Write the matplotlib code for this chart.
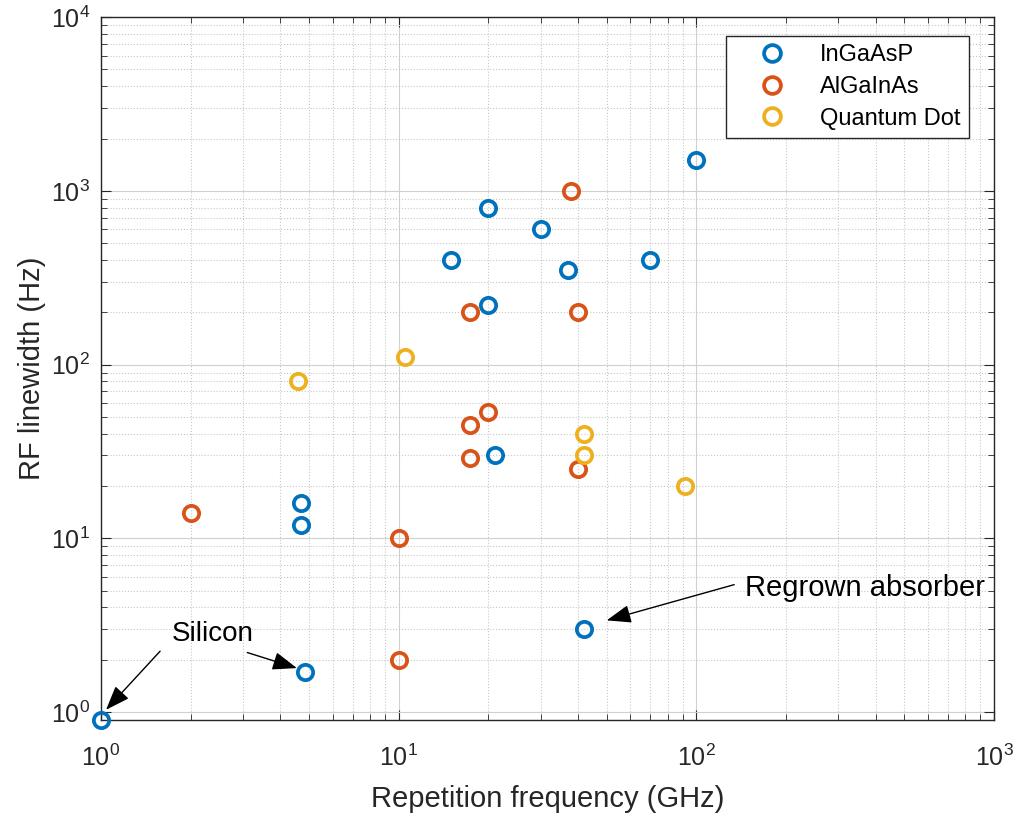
import matplotlib
matplotlib.use("Agg")
import matplotlib.pyplot as plt

plt.rcParams['font.family'] = ['Liberation Sans', 'DejaVu Sans']

# InGaAsP
ingaasp_f = [100, 20, 30, 15, 37, 70, 20, 21, 4.7, 4.7, 4.85, 42, 1]
ingaasp_lw = [1500, 800, 600, 400, 350, 400, 220, 30, 16, 12, 1.7, 3, 0.9]
# AlGaInAs
algainas_f = [38, 17.4, 40, 20, 17.4, 17.4, 40, 2, 10, 10]
algainas_lw = [1000, 200, 200, 53, 45, 29, 25, 14, 10, 2]
# Quantum Dot
qd_f = [10.5, 4.6, 42, 42, 91.5]
qd_lw = [110, 80, 40, 30, 20]

fig = plt.figure(figsize=(10.19, 8.15), dpi=100)
ax = fig.add_axes([0.0991, 0.1166, 0.8764, 0.8624])

mk = dict(linestyle='none', marker='o', markerfacecolor='none', markersize=11, markeredgewidth=2.7, clip_on=False, zorder=3)
ax.plot(ingaasp_f, ingaasp_lw, markeredgecolor='#0072BD', label='InGaAsP', **mk)
ax.plot(algainas_f, algainas_lw, markeredgecolor='#D95319', label='AlGaInAs', **mk)
ax.plot(qd_f, qd_lw, markeredgecolor='#EDB120', label='Quantum Dot', **mk)

ax.set_xscale('log')
ax.set_yscale('log')
ax.set_xlim(1, 1000)
ax.set_ylim(0.9, 1e4)

ax.grid(True, which='major', color='#d0d0d0', linestyle='-', linewidth=0.8)
ax.grid(True, which='minor', color='#c8c8c8', linestyle=':', linewidth=0.8)
ax.set_axisbelow(True)
ax.tick_params(which='both', direction='in', top=True, right=True, labelsize=18, colors='#262626')
ax.tick_params(which='major', length=7)
ax.tick_params(which='minor', length=4)
ax.tick_params(axis='x', which='major', pad=18)
ax.tick_params(axis='y', which='major', pad=8)
for s in ax.spines.values():
    s.set_color('#262626')
    s.set_linewidth(1.0)

ax.set_xlabel('Repetition frequency (GHz)', fontsize=21, color='#262626', labelpad=10)
ax.set_ylabel('RF linewidth (Hz)', fontsize=21, color='#262626', labelpad=3)

arw = dict(arrowstyle='-|>,head_length=0.75,head_width=0.28', color='black', lw=1.0,
           shrinkA=0, shrinkB=0, mutation_scale=20)
ax.annotate('', xy=(1.04, 1.03), xytext=(1.58, 2.24), arrowprops=arw)
ax.annotate('', xy=(4.55, 1.79), xytext=(3.1, 2.2), arrowprops=arw)
ax.text(2.38, 2.8, 'Silicon', fontsize=20, ha='center', va='center')
ax.annotate('', xy=(50, 3.37), xytext=(134, 5.41), arrowprops=arw)
ax.text(368, 5.2, 'Regrown absorber', fontsize=21, ha='center', va='center')

leg = ax.legend(loc='upper right', bbox_to_anchor=(0.972, 0.973), fontsize=17, fancybox=False,
                framealpha=1, edgecolor='#262626', handletextpad=0.45, borderpad=0.35, labelspacing=0.41,
                handlelength=3.2, borderaxespad=0, markerscale=1.1)
leg.get_frame().set_linewidth(1.0)

fig.savefig('out.png', dpi=100)
